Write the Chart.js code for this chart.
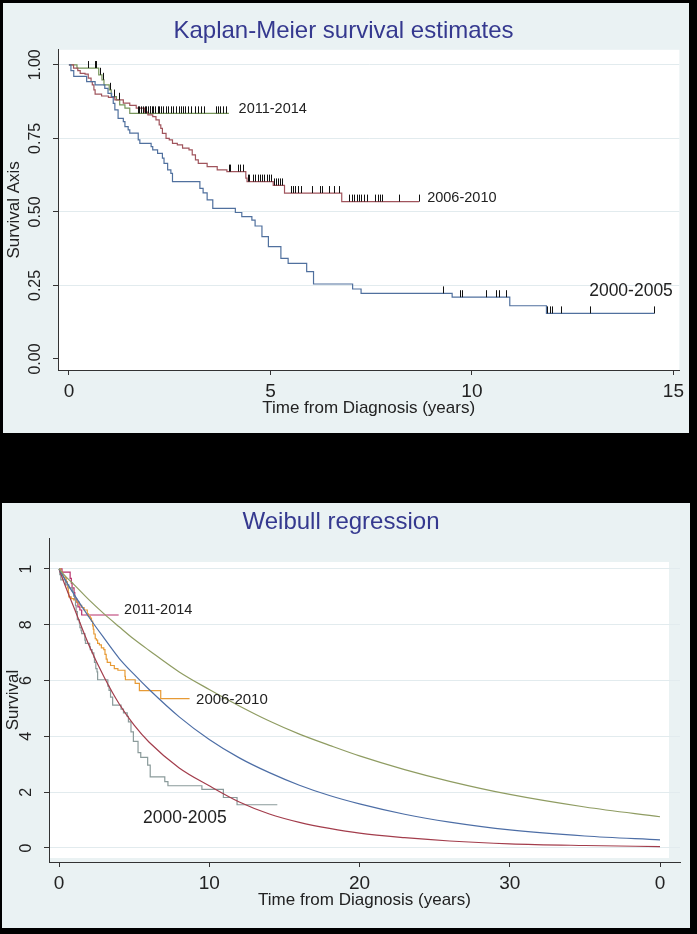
<!DOCTYPE html>
<html>
<head>
<meta charset="utf-8">
<script src="https://cdn.jsdelivr.net/npm/chart.js@4"></script>
<style>
  html, body { margin: 0; padding: 0; background: #000; }
  body { width: 697px; height: 934px; position: relative; overflow: hidden; }
  .panel { position: absolute; background: #eaf2f3; }
  #kmPanel { left: 3px; top: 3px; width: 686px; height: 430px; }
  #wbPanel { left: 2px; top: 503px; width: 688px; height: 425px; }
</style>
</head>
<body>
<div class="panel" id="kmPanel"><canvas id="kmChart"></canvas></div>
<div class="panel" id="wbPanel"><canvas id="wbChart"></canvas></div>
<script>

// Kaplan-Meier steps: event time (years) and survival just after it
let t0005 = [0, 0.05, 0.12, 0.44, 0.65, 0.89, 0.97, 1.06, 1.1, 1.14, 1.22, 1.35, 1.39, 1.47, 1.51, 1.72, 1.76, 2.04, 2.08, 2.2,
             2.32, 2.36, 2.45, 2.53, 2.57, 3.25, 3.33, 3.43, 3.57, 4.13, 4.29, 4.54, 4.62, 4.79, 4.83, 4.95, 5.26, 5.44, 5.9, 6.07,
             7.04, 7.25, 9.51, 10.94, 11.85, 14.53];
let s0005 = [1, 0.98, 0.961, 0.943, 0.932, 0.92, 0.903, 0.892, 0.869, 0.847, 0.818, 0.807, 0.79, 0.779, 0.768, 0.745, 0.733, 0.722, 0.711, 0.699,
             0.683, 0.665, 0.643, 0.631, 0.603, 0.58, 0.565, 0.541, 0.512, 0.498, 0.484, 0.472, 0.452, 0.416, 0.416, 0.382, 0.342, 0.325, 0.297, 0.255,
             0.238, 0.223, 0.21, 0.181, 0.155, 0.155];
let c0005 = [9.28, 9.7, 9.76, 10.35, 10.61, 10.68, 10.84, 11.87, 11.93, 12.0, 12.2, 12.94, 14.53];

let t0610 = [0, 0.115, 0.22, 0.28, 0.4, 0.48, 0.55, 0.58, 0.62, 0.65, 0.81, 0.98, 1.14, 1.35, 1.51, 1.67, 1.88, 1.96, 2.08, 2.16,
             2.24, 2.28, 2.32, 2.41, 2.49, 2.57, 2.69, 2.82, 2.98, 3.06, 3.14, 3.21, 3.43, 3.68, 3.92, 4.39, 4.42, 5.07, 5.35, 6.77, 8.69];
let s0610 = [1, 0.989, 0.98, 0.971, 0.968, 0.955, 0.943, 0.932, 0.915, 0.9, 0.894, 0.889, 0.881, 0.87, 0.862, 0.853, 0.839, 0.83, 0.824, 0.813,
             0.796, 0.784, 0.767, 0.75, 0.745, 0.733, 0.728, 0.717, 0.711, 0.694, 0.677, 0.665, 0.654, 0.643, 0.637, 0.615, 0.603, 0.59, 0.564, 0.535, 0.535];
let c0610 = [3.97, 4.0, 4.2, 4.25, 4.33, 4.44, 4.47, 4.58, 4.62, 4.69, 4.74, 4.79, 4.84, 4.91, 4.97, 5.02, 5.1, 5.14, 5.19, 5.23, 5.28,
             5.51, 5.57, 5.62, 5.69, 5.77, 6.02, 6.22, 6.28, 6.46, 6.58, 6.7, 6.96, 7.02, 7.08, 7.15, 7.2, 7.26, 7.33, 7.39,
             7.6, 7.66, 7.72, 7.78, 8.2, 8.69];

let t1114 = [0, 0.2, 0.74, 0.82, 0.87, 1.0, 1.05, 1.18, 1.26, 1.39, 1.51, 3.97];
let s1114 = [1, 0.989, 0.966, 0.949, 0.932, 0.915, 0.892, 0.881, 0.864, 0.853, 0.835, 0.835];
let c1114 = [0.48, 0.65, 0.67, 0.76, 0.84, 1.02, 1.13, 1.25, 1.71, 1.75, 1.8, 1.83, 1.88, 1.92, 1.96, 2.0, 2.02, 2.06, 2.09, 2.14,
             2.2, 2.24, 2.28, 2.34, 2.41, 2.46, 2.53, 2.59, 2.66, 2.72, 2.78, 2.82, 2.88, 2.96, 3.02, 3.14, 3.21, 3.27, 3.35,
             3.64, 3.69, 3.75, 3.82, 3.9];

// Weibull fitted curves, read at these times
let wbTime  = [0, 0.5, 1, 2, 3, 4, 5, 6, 8, 10, 12, 14, 16, 18, 20, 23, 26, 30, 35, 40];
let wbGreen = [1, 0.970, 0.944, 0.889, 0.839, 0.793, 0.748, 0.708, 0.631, 0.568, 0.509, 0.455, 0.408, 0.368, 0.330, 0.281, 0.239, 0.192, 0.147, 0.112];
let wbBlue  = [1, 0.953, 0.909, 0.827, 0.752, 0.680, 0.622, 0.568, 0.470, 0.389, 0.323, 0.270, 0.225, 0.188, 0.158, 0.121, 0.093, 0.065, 0.043, 0.029];
let wbRed   = [1, 0.928, 0.861, 0.726, 0.613, 0.517, 0.440, 0.379, 0.287, 0.223, 0.165, 0.122, 0.092, 0.070, 0.053, 0.037, 0.025, 0.015, 0.009, 0.005];

// axes
let kmXTicks = [0, 5, 10, 15];
let kmXLabels = ['0', '5', '10', '15'];
let kmYTicks = [0, 0.25, 0.5, 0.75, 1];
let kmYLabels = ['0.00', '0.25', '0.50', '0.75', '1.00'];
let wbXTicks = [0, 10, 20, 30, 40];
let wbXLabels = ['0', '10', '20', '30', '0'];
let wbYTicks = [0, 0.2, 0.4, 0.6, 0.8, 1];
let wbYLabels = ['0', '2', '4', '6', '8', '1'];

Chart.defaults.font.family = '"Liberation Sans", Arial, sans-serif';
Chart.defaults.color = '#222';

// helpers
function points(xs, ys) {
  return xs.map(function(x, i) { return {x: x, y: ys[i]}; });
}

// survival level of a step curve at time t
function levelAt(times, surv, t) {
  let s = surv[0];
  for (let i = 0; i < times.length; i++) {
    if (times[i] <= t + 1e-9) s = surv[i];
  }
  return s;
}

// white plot region (optionally inset from the axis frame)
const plotBackground = {
  id: 'plotBackground',
  beforeDraw(chart, args, opts) {
    const a = chart.chartArea, ctx = chart.ctx;
    const ins = opts.inset || [0, 0, 0, 0];
    ctx.save();
    ctx.fillStyle = '#ffffff';
    ctx.fillRect(a.left + ins[0], a.top + ins[1], a.width - ins[0] - ins[2], a.height - ins[1] - ins[3]);
    ctx.restore();
  }
};

// rotated y tick labels, Stata style
const rotatedYLabels = {
  id: 'rotatedYLabels',
  afterDraw(chart, args, opts) {
    const ctx = chart.ctx, y = chart.scales.y;
    ctx.save();
    ctx.fillStyle = '#222';
    ctx.font = opts.size + 'px "Liberation Sans", Arial, sans-serif';
    ctx.textAlign = 'center';
    ctx.textBaseline = 'middle';
    opts.values.forEach(function(v, i) {
      ctx.save();
      ctx.translate(chart.chartArea.left - opts.offset, y.getPixelForValue(v));
      ctx.rotate(-Math.PI / 2);
      ctx.fillText(opts.labels[i], 0, 0);
      ctx.restore();
    });
    ctx.restore();
  }
};

// censoring marks on the KM curves
const censorTicks = {
  id: 'censorTicks',
  afterDatasetsDraw(chart, args, opts) {
    if (!opts.groups) return;
    const ctx = chart.ctx, x = chart.scales.x, y = chart.scales.y;
    ctx.save();
    ctx.strokeStyle = '#111';
    ctx.lineWidth = 1;
    opts.groups.forEach(function(g) {
      g.censor.forEach(function(t) {
        const px = Math.round(x.getPixelForValue(t)) + 0.5;
        const py = y.getPixelForValue(levelAt(g.times, g.surv, t));
        ctx.beginPath();
        ctx.moveTo(px, py);
        ctx.lineTo(px, py - 7);
        ctx.stroke();
      });
    });
    ctx.restore();
  }
};

// curve labels in data coordinates
const curveLabels = {
  id: 'curveLabels',
  afterDatasetsDraw(chart, args, opts) {
    const ctx = chart.ctx, x = chart.scales.x, y = chart.scales.y;
    ctx.save();
    ctx.fillStyle = '#222';
    ctx.textAlign = 'left';
    ctx.textBaseline = 'middle';
    opts.items.forEach(function(it) {
      ctx.font = it.size + 'px "Liberation Sans", Arial, sans-serif';
      ctx.fillText(it.text, x.getPixelForValue(it.x), y.getPixelForValue(it.y));
    });
    ctx.restore();
  }
};

function stepLine(xs, ys, color) {
  return { data: points(xs, ys), borderColor: color, borderWidth: 1.2, pointRadius: 0, stepped: true, fill: false };
}

function smoothLine(xs, ys, color) {
  return { data: points(xs, ys), borderColor: color, borderWidth: 1.2, pointRadius: 0, cubicInterpolationMode: 'monotone', fill: false };
}

function xAxis(min, max, ticks, labels, height, pad, titleBottom) {
  return {
    type: 'linear', min: min, max: max,
    afterBuildTicks: function(s) { s.ticks = ticks.map(function(v) { return {value: v}; }); },
    afterFit: function(s) { s.height = height; },
    ticks: { font: {size: 19}, color: '#222', padding: pad, maxRotation: 0, autoSkip: false,
             callback: function(v, i) { return labels[i]; } },
    grid: { drawOnChartArea: false, tickLength: 5, tickColor: '#333' },
    border: { color: '#333', width: 1 },
    title: { display: true, text: 'Time from Diagnosis (years)', font: {size: 17}, color: '#222',
             padding: {top: 0, bottom: titleBottom} }
  };
}

function yAxis(min, max, ticks, width, title, hideZero) {
  return {
    type: 'linear', min: min, max: max,
    afterBuildTicks: function(s) { s.ticks = ticks.map(function(v) { return {value: v}; }); },
    afterFit: function(s) { s.width = width; },
    ticks: { display: false },
    grid: {
      color: function(c) { return (hideZero && c.tick && c.tick.value === 0) ? 'rgba(0,0,0,0)' : '#e2ebee'; },
      tickLength: 5, tickColor: '#333'
    },
    border: { color: '#333', width: 1 },
    title: { display: true, text: title, font: {size: 17}, color: '#222', padding: {top: 1, bottom: 0} }
  };
}

// Kaplan-Meier chart
new Chart(document.getElementById('kmChart'), {
  type: 'line',
  data: {
    datasets: [
      stepLine(t0005, s0005, '#50709e'),
      stepLine(t0610, s0610, '#a0545c'),
      stepLine(t1114, s1114, '#76955a')
    ]
  },
  options: {
    responsive: true, maintainAspectRatio: false, animation: false,
    layout: { padding: {left: 0, right: 5, top: 0, bottom: 0} },
    scales: {
      x: xAxis(-0.271, 15.148, kmXTicks, kmXLabels, 63, 5, 14),
      y: yAxis(-0.0374, 1.051, kmYTicks, 55, 'Survival Axis', true)
    },
    plugins: {
      legend: { display: false },
      tooltip: { enabled: false },
      title: { display: true, text: 'Kaplan-Meier survival estimates', color: '#35398f',
               font: {size: 24, weight: 'normal'}, padding: {top: 14, bottom: 4} },
      plotBackground: { inset: [0, 0, 0, 0] },
      rotatedYLabels: { values: kmYTicks, labels: kmYLabels, offset: 22, size: 16 },
      censorTicks: { groups: [
        { times: t0005, surv: s0005, censor: c0005 },
        { times: t0610, surv: s0610, censor: c0610 },
        { times: t1114, surv: s1114, censor: c1114 }
      ] },
      curveLabels: { items: [
        { text: '2011-2014', x: 4.21, y: 0.849, size: 14.5 },
        { text: '2006-2010', x: 8.89, y: 0.548, size: 14.5 },
        { text: '2000-2005', x: 12.91, y: 0.232, size: 17.5 }
      ] }
    }
  },
  plugins: [plotBackground, rotatedYLabels, censorTicks, curveLabels]
});

// Weibull regression chart
new Chart(document.getElementById('wbChart'), {
  type: 'line',
  data: {
    datasets: [
      smoothLine(wbTime, wbGreen, '#8f9c62'),
      smoothLine(wbTime, wbBlue, '#4d6ea6'),
      smoothLine(wbTime, wbRed, '#a33d4c'),
      stepLine(t0005, s0005, '#8b9b9b'),
      stepLine(t0610, s0610, '#e79a35'),
      stepLine(t1114, s1114, '#b8306a')
    ]
  },
  options: {
    responsive: true, maintainAspectRatio: false, animation: false,
    layout: { padding: {left: 0, right: 10, top: 0, bottom: 0} },
    scales: {
      x: xAxis(-0.666, 41.33, wbXTicks, wbXLabels, 66, 5, 17),
      y: yAxis(-0.0502, 1.111, wbYTicks, 47, 'Survival', false)
    },
    plugins: {
      legend: { display: false },
      tooltip: { enabled: false },
      title: { display: true, text: 'Weibull regression', color: '#35398f',
               font: {size: 24, weight: 'normal'}, padding: {top: 4.6, bottom: 1.6} },
      plotBackground: { inset: [0, 24, 11, 4] },
      rotatedYLabels: { values: wbYTicks, labels: wbYLabels, offset: 22, size: 16 },
      curveLabels: { items: [
        { text: '2011-2014', x: 4.33, y: 0.853, size: 14.5 },
        { text: '2006-2010', x: 9.12, y: 0.53, size: 15 },
        { text: '2000-2005', x: 5.59, y: 0.108, size: 17.5 }
      ] }
    }
  },
  plugins: [plotBackground, rotatedYLabels, curveLabels]
});

</script>
</body>
</html>
